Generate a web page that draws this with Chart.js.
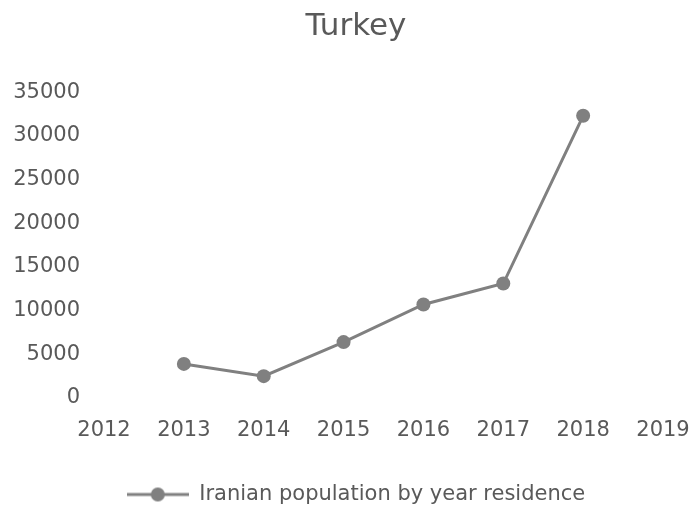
<!DOCTYPE html>
<html lang="en">
<head>
    <meta charset="UTF-8">
    <title>Turkey</title>
    <style>
        body {
            margin: 0;
            background: #ffffff;
            overflow: hidden;
        }
    </style>
    <script src="https://cdn.jsdelivr.net/npm/chart.js"></script>
</head>
<body>
    <canvas id="chart" width="712" height="511"></canvas>

    <script>
        const anos = [2013, 2014, 2015, 2016, 2017, 2018];
        const populacao = [3900, 2500, 6400, 10700, 13100, 32300];
        const rotuloSerie = 'Iranian population by year residence';
        const titulo = 'Turkey';

        const cinza = '#808080';
        const texto = '#595959';
        const fonte = "'DejaVu Sans', sans-serif";
        const tamanhoFonte = 21;

        // marcador da legenda: linha com bolinha no meio
        function marcadorLegenda() {
            let c = document.createElement('canvas');
            c.width = 62;
            c.height = 16;
            let g = c.getContext('2d');
            g.strokeStyle = cinza;
            g.lineWidth = 3;
            g.beginPath();
            g.moveTo(0, 8);
            g.lineTo(62, 8);
            g.stroke();
            g.fillStyle = cinza;
            g.beginPath();
            g.arc(31, 8, 7, 0, Math.PI * 2);
            g.fill();
            return c;
        }

        // largura do maior rótulo do eixo y, para alinhar à direita
        let ctxMedida = document.createElement('canvas').getContext('2d');
        ctxMedida.font = tamanhoFonte + 'px ' + fonte;
        const larguraRotuloY = ctxMedida.measureText('35000').width;

        let ctx = document.getElementById('chart').getContext('2d');
        new Chart(ctx, {
            type: 'line',
            data: {
                datasets: [{
                    label: rotuloSerie,
                    data: anos.map((a, i) => ({ x: a, y: populacao[i] })),
                    borderColor: cinza,
                    backgroundColor: cinza,
                    borderWidth: 3,
                    pointRadius: 7,
                    pointBorderWidth: 0,
                    pointBackgroundColor: cinza,
                    tension: 0
                }]
            },
            options: {
                responsive: false,
                animation: false,
                layout: {
                    padding: { left: 49, right: 49, top: 0, bottom: -4 }
                },
                plugins: {
                    title: {
                        display: true,
                        text: titulo,
                        color: texto,
                        font: { family: fonte, size: 31, weight: 'normal' },
                        padding: { top: 8, bottom: 47 }
                    },
                    legend: {
                        position: 'bottom',
                        labels: {
                            color: texto,
                            font: { family: fonte, size: tamanhoFonte },
                            usePointStyle: true,
                            pointStyleWidth: 62,
                            padding: 3,
                            generateLabels: (chart) => [{
                                text: rotuloSerie,
                                pointStyle: marcadorLegenda(),
                                fontColor: texto,
                                datasetIndex: 0
                            }]
                        }
                    },
                    tooltip: { enabled: false }
                },
                scales: {
                    x: {
                        type: 'linear',
                        min: 2012,
                        max: 2019,
                        grid: { display: false, drawTicks: false },
                        border: { display: false },
                        afterFit: (scale) => { scale.height = 83; },
                        ticks: {
                            stepSize: 1,
                            color: texto,
                            padding: 20,
                            maxRotation: 0,
                            font: { family: fonte, size: tamanhoFonte },
                            callback: (v) => String(v)
                        }
                    },
                    y: {
                        min: 0,
                        max: 35000,
                        grid: { display: false, drawTicks: false },
                        border: { display: false },
                        // rótulos espelhados e puxados para a margem da esquerda
                        afterFit: (scale) => { scale.width = 55; },
                        ticks: {
                            stepSize: 5000,
                            color: texto,
                            mirror: true,
                            crossAlign: 'far',
                            padding: -24 - larguraRotuloY,
                            font: { family: fonte, size: tamanhoFonte },
                            callback: (v) => String(v)
                        }
                    }
                }
            }
        });
    </script>
</body>
</html>
